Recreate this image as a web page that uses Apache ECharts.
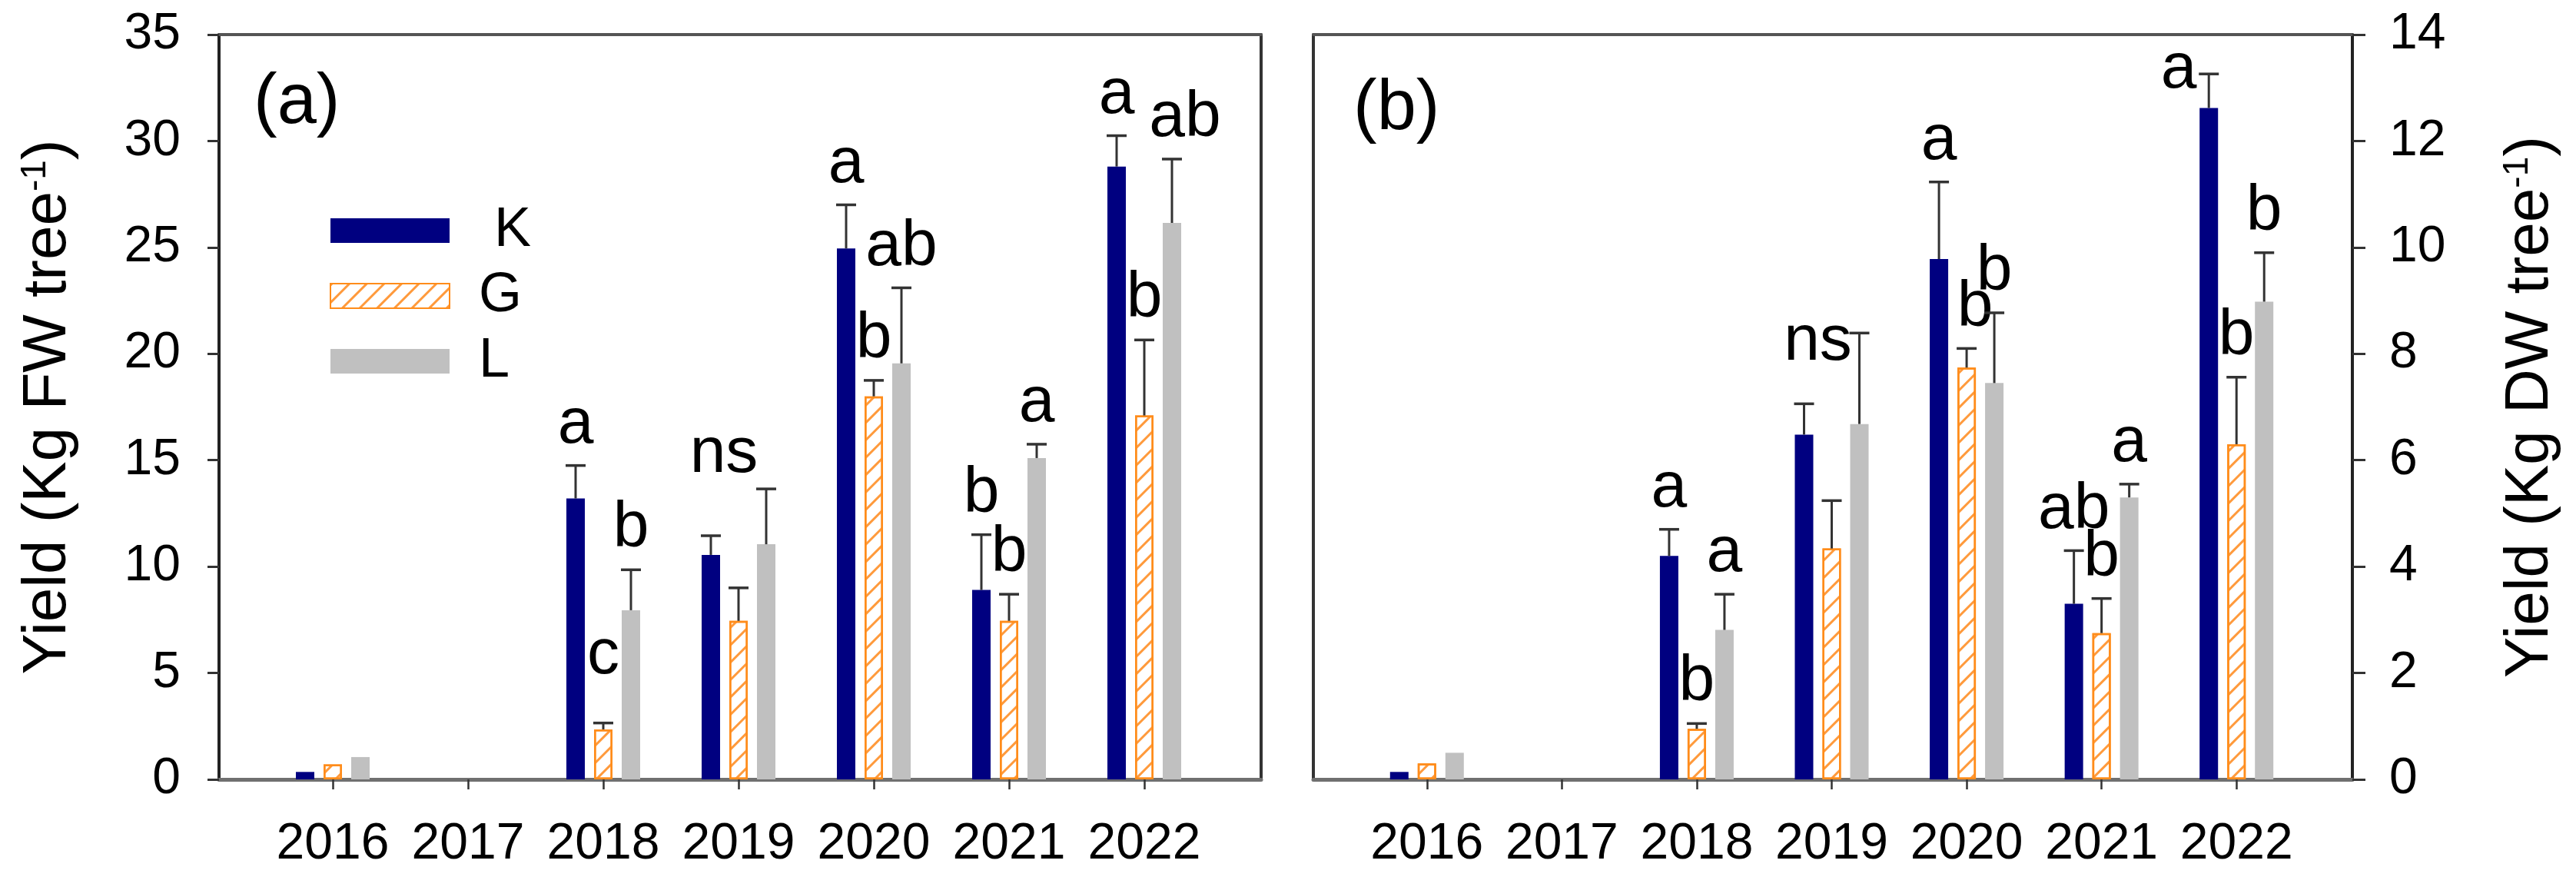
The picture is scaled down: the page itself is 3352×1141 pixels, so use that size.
<!DOCTYPE html>
<html><head><meta charset="utf-8">
<script src="https://cdn.jsdelivr.net/npm/echarts@6/dist/echarts.min.js"></script>
<style>html,body{margin:0;padding:0;background:#fff}#c{width:3352px;height:1141px}</style>
</head><body><div id="c"></div>
<script>
// ---------- data ----------
const years = ['2016','2017','2018','2019','2020','2021','2022'];
const treatments = [' K','G','L'];
const yTicksA = {min:0, max:35, step:5};
const yTicksB = {min:0, max:14, step:2};

// Panel (a) Yield, Kg FW tree-1
const fwK    = [0.35, null, 13.2, 10.55, 24.95, 8.9, 28.8];
const fwKerr = [null, null, 1.55, 0.9, 2.05, 2.6, 1.45];
const fwG    = [0.7, null, 2.35, 7.45, 18.0, 7.45, 17.1];
const fwGerr = [null, null, 0.3, 1.55, 0.75, 1.25, 3.55];
const fwL    = [1.05, null, 7.95, 11.05, 19.55, 15.1, 26.15];
const fwLerr = [null, null, 1.9, 2.6, 3.55, 0.65, 3.0];
const fwKlet = ['', '', 'a', '', 'a', 'b', 'a'];
const fwGlet = ['', '', 'c', '', 'b', 'b', 'b'];
const fwLlet = ['', '', 'b', '', 'ab', 'a', 'ab'];
const fwGroupLet = ['', '', '', 'ns', '', '', ''];

// Panel (b) Yield, Kg DW tree-1
const dwK    = [0.14, null, 4.2, 6.48, 9.78, 3.3, 12.62];
const dwKerr = [null, null, 0.5, 0.58, 1.45, 1.0, 0.64];
const dwG    = [0.3, null, 0.95, 4.34, 7.74, 2.75, 6.3];
const dwGerr = [null, null, 0.1, 0.9, 0.36, 0.65, 1.26];
const dwL    = [0.5, null, 2.81, 6.68, 7.45, 5.3, 8.98];
const dwLerr = [null, null, 0.67, 1.71, 1.32, 0.25, 0.92];
const dwKlet = ['', '', 'a', '', 'a', 'ab', 'a'];
const dwGlet = ['', '', 'b', '', 'b', 'b', 'b'];
const dwLlet = ['', '', 'a', '', 'b', 'a', 'b'];
const dwGroupLet = ['', '', '', 'ns', '', '', ''];

// ---------- layout / style ----------
const FONT = 'Liberation Sans, Arial, Helvetica, sans-serif';
const BW = 24, GAPF = 0.5, CAP = 13, LETTER_GAP = 11, LETTER_SIZE = 84;
const colors = ['#000080', '#ffffff', '#c0c0c0'];
// small manual nudges of significance letters [dx, dy] in px (keyed panel|year index|series)
const nudges = {
  'a|2|1': [0, -35], 'a|6|2': [17, 0], 'a|3|g': [-19, 8],
  'b|3|g': [-18, 65], 'b|4|1': [11, 0], 'b|6|0': [-39, 48]
};

const chart = echarts.init(document.getElementById('c'), null, {renderer:'canvas'});

const frameTop = 45, frameH = 969;
const grids = [
  {left: 285, top: frameTop, width: 1356, height: frameH},   // frame a
  {left: 345, top: frameTop, width: 1232, height: frameH},   // data a
  {left: 1709, top: frameTop, width: 1352, height: frameH},  // frame b
  {left: 1769, top: frameTop, width: 1229, height: frameH}   // data b
];

function frameX(gi) {
  return [
    {gridIndex: gi, type:'value', min:0, max:1, position:'bottom',
     axisLine:{show:true, onZero:false, lineStyle:{color:'#707070', width:5}},
     axisTick:{show:false}, minorTick:{show:false}, axisLabel:{show:false}, splitLine:{show:false}},
    {gridIndex: gi, type:'value', min:0, max:1, position:'top',
     axisLine:{show:true, onZero:false, lineStyle:{color:'#555', width:4}},
     axisTick:{show:false}, minorTick:{show:false}, axisLabel:{show:false}, splitLine:{show:false}}
  ];
}
function dataX(gi) {
  return {gridIndex: gi, type:'category', data: years, position:'bottom',
    axisLine:{show:false, onZero:false},
    axisTick:{show:true, interval:0, alignWithLabel:true, length:13, lineStyle:{color:'#333', width:2.5}},
    axisLabel:{interval:0, fontSize:66, fontFamily:FONT, color:'#000', margin:52, hideOverlap:false},
    splitLine:{show:false}};
}
const nameStyle = {fontSize:80, fontFamily:FONT, color:'#000',
  rich:{s:{fontSize:46, fontFamily:FONT, color:'#000', verticalAlign:'top', lineHeight:80}}};

const plainBorder = (gi, pos, mn, mx) => ({gridIndex:gi, type:'value', position:pos, min:mn, max:mx,
   axisLine:{show:true, onZero:false, lineStyle:{color:'#333', width:4}},
   axisTick:{show:false}, minorTick:{show:false}, axisLabel:{show:false}, splitLine:{show:false}});

const xAxis = [...frameX(0), dataX(1), ...frameX(2), dataX(3)];
const yAxis = [
  {gridIndex:0, type:'value', position:'left', min:yTicksA.min, max:yTicksA.max, interval:yTicksA.step,
   axisLine:{show:true, onZero:false, lineStyle:{color:'#222', width:4}},
   axisTick:{show:true, length:15, lineStyle:{color:'#333', width:3}},
   axisLabel:{fontSize:66, fontFamily:FONT, color:'#000', margin:50},
   splitLine:{show:false},
   name:'Yield (Kg FW tree{s|-1})', nameLocation:'middle', nameRotate:90, nameGap:182, nameTextStyle:nameStyle},
  plainBorder(0, 'right', yTicksA.min, yTicksA.max),
  {gridIndex:1, type:'value', min:yTicksA.min, max:yTicksA.max, show:false},
  plainBorder(2, 'left', yTicksB.min, yTicksB.max),
  {gridIndex:2, type:'value', position:'right', min:yTicksB.min, max:yTicksB.max, interval:yTicksB.step,
   axisLine:{show:true, onZero:false, lineStyle:{color:'#222', width:4}},
   axisTick:{show:true, length:17, lineStyle:{color:'#333', width:3}},
   axisLabel:{fontSize:66, fontFamily:FONT, color:'#000', margin:48},
   splitLine:{show:false},
   name:'Yield (Kg DW tree{s|-1})', nameLocation:'middle', nameRotate:90, nameGap:192, nameTextStyle:nameStyle},
  {gridIndex:3, type:'value', min:yTicksB.min, max:yTicksB.max, show:false}
];

const itemStyles = [
  {color: colors[0]},
  {color: colors[1], borderColor:'#ff8c1a', borderWidth:2.5,
   decal:{symbol:'rect', symbolSize:1, color:'#ff9a3c', dashArrayX:[1,0], dashArrayY:[3,13], rotation:-Math.PI/4}},
  {color: colors[2]}
];

const series = [];
function addPanel(key, xi, yi, vals, errs, lets, groupLet) {
  vals.forEach((v, i) => {
    series.push({type:'bar', name: treatments[i], xAxisIndex:xi, yAxisIndex:yi,
      barWidth:BW, barGap:(GAPF*100)+'%', data: v.map(d => d == null ? '-' : d),
      itemStyle: itemStyles[i], z:2, silent:true});
  });
  vals.forEach((v, i) => {
    const off = (i - 1) * BW * (1 + GAPF);
    series.push({type:'custom', xAxisIndex:xi, yAxisIndex:yi, z:5, clip:false, silent:true,
      data: v.map((d, j) => [j, d == null ? 0 : d + (errs[i][j] || 0)]),
      encode:{x:0, y:1},
      renderItem: (params, api) => {
        const j = params.dataIndex;
        const val = v[j];
        if (val == null) return null;
        const e = errs[i][j];
        const base = api.coord([j, val]);
        const x = base[0] + off;
        const kids = [];
        let anchor = base[1];
        if (e != null) {
          const top = api.coord([j, val + e])[1];
          anchor = top;
          kids.push({type:'line', shape:{x1:x, y1:base[1], x2:x, y2:top}, style:{stroke:'#333', lineWidth:3}});
          kids.push({type:'line', shape:{x1:x-CAP, y1:top, x2:x+CAP, y2:top}, style:{stroke:'#333', lineWidth:3.5}});
        }
        const txt = (t, tx, ty, nk) => {
          const n = nudges[nk] || [0, 0];
          kids.push({type:'text', x: tx + n[0], y: ty + n[1],
            style:{text:t, fontSize:LETTER_SIZE, fontFamily:FONT, fill:'#000',
                   align:'center', verticalAlign:'bottom', textAlign:'center', textVerticalAlign:'bottom'}});
        };
        if (lets[i][j]) txt(lets[i][j], x, anchor - LETTER_GAP, key+'|'+j+'|'+i);
        if (i === 1 && groupLet[j]) {
          let mx = -Infinity;
          vals.forEach((vv, k) => { if (vv[j] != null) mx = Math.max(mx, vv[j] + (errs[k][j] || 0)); });
          const gy = api.coord([j, mx])[1];
          txt(groupLet[j], base[0], gy - LETTER_GAP, key+'|'+j+'|g');
        }
        return {type:'group', children:kids};
      }});
  });
}
addPanel('a', 2, 2, [fwK, fwG, fwL], [fwKerr, fwGerr, fwLerr], [fwKlet, fwGlet, fwLlet], fwGroupLet);
addPanel('b', 5, 5, [dwK, dwG, dwL], [dwKerr, dwGerr, dwLerr], [dwKlet, dwGlet, dwLlet], dwGroupLet);

chart.setOption({
  backgroundColor:'#fff',
  animation:false,
  title:[
    {text:'(a)', left:330, top:89, padding:0, textStyle:{fontSize:92, fontWeight:'normal', fontFamily:FONT, color:'#000'}},
    {text:'(b)', left:1761, top:97, padding:0, textStyle:{fontSize:92, fontWeight:'normal', fontFamily:FONT, color:'#000'}}
  ],
  legend:{data: treatments, orient:'vertical', left:429, top:264, itemWidth:155, itemHeight:32, itemGap:13,
    icon:'rect', selectedMode:false, padding:0,
    textStyle:{fontSize:72, fontFamily:FONT, color:'#000', lineHeight:72, padding:[0,0,0,33]}},
  grid: grids,
  xAxis, yAxis, series
});
</script></body></html>
